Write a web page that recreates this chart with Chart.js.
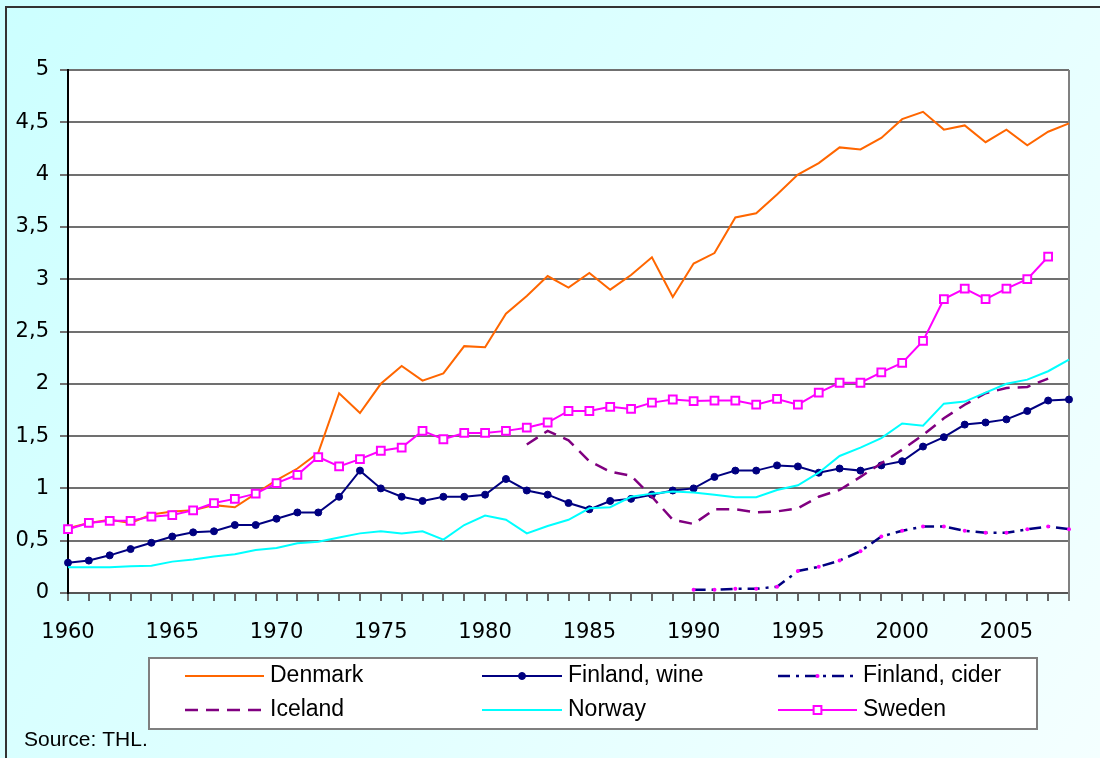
<!DOCTYPE html>
<html>
<head>
<meta charset="utf-8">
<script src="https://cdn.jsdelivr.net/npm/chart.js@4.4.1/dist/chart.umd.min.js"></script>
<style>
  html, body { margin: 0; padding: 0; background: #fff; }
  #wrap { width: 1100px; height: 758px; }
</style>
</head>
<body>
<div id="wrap"><canvas id="chart" width="1100" height="758"></canvas></div>
<script>
const years = [
  1960, 1961, 1962, 1963, 1964, 1965, 1966, 1967, 1968, 1969,
  1970, 1971, 1972, 1973, 1974, 1975, 1976, 1977, 1978, 1979,
  1980, 1981, 1982, 1983, 1984, 1985, 1986, 1987, 1988, 1989,
  1990, 1991, 1992, 1993, 1994, 1995, 1996, 1997, 1998, 1999,
  2000, 2001, 2002, 2003, 2004, 2005, 2006, 2007, 2008
];

const denmark = [
  0.62, 0.67, 0.70, 0.67, 0.75, 0.78, 0.79, 0.84, 0.82, 0.95,
  1.08, 1.19, 1.34, 1.91, 1.72, 2.00, 2.17, 2.03, 2.10, 2.36,
  2.35, 2.67, 2.84, 3.03, 2.92, 3.06, 2.90, 3.04, 3.21, 2.83,
  3.15, 3.25, 3.59, 3.63, 3.81, 4.00, 4.11, 4.26, 4.24, 4.35,
  4.53, 4.60, 4.43, 4.47, 4.31, 4.43, 4.28, 4.41, 4.49
];

const finlandWine = [
  0.29, 0.31, 0.36, 0.42, 0.48, 0.54, 0.58, 0.59, 0.65, 0.65,
  0.71, 0.77, 0.77, 0.92, 1.17, 1.00, 0.92, 0.88, 0.92, 0.92,
  0.94, 1.09, 0.98, 0.94, 0.86, 0.80, 0.88, 0.90, 0.94, 0.98,
  1.00, 1.11, 1.17, 1.17, 1.22, 1.21, 1.15, 1.19, 1.17, 1.22,
  1.26, 1.40, 1.49, 1.61, 1.63, 1.66, 1.74, 1.84, 1.85
];

const finlandCider = [
  null, null, null, null, null, null, null, null, null, null,
  null, null, null, null, null, null, null, null, null, null,
  null, null, null, null, null, null, null, null, null, null,
  0.03, 0.03, 0.04, 0.04, 0.06, 0.21, 0.25, 0.31, 0.40, 0.54,
  0.595, 0.635, 0.635, 0.595, 0.575, 0.575, 0.61, 0.635, 0.61
];

const iceland = [
  null, null, null, null, null, null, null, null, null, null,
  null, null, null, null, null, null, null, null, null, null,
  null, null, 1.42, 1.55, 1.46, 1.26, 1.16, 1.12, 0.92, 0.70,
  0.66, 0.80, 0.80, 0.77, 0.78, 0.81, 0.92, 0.985, 1.11, 1.24,
  1.37, 1.51, 1.67, 1.80, 1.91, 1.96, 1.97, 2.05, null
];

const norway = [
  0.245, 0.245, 0.245, 0.255, 0.26, 0.30, 0.32, 0.35, 0.37, 0.41,
  0.43, 0.475, 0.49, 0.53, 0.57, 0.59, 0.57, 0.59, 0.51, 0.65,
  0.74, 0.70, 0.57, 0.64, 0.70, 0.81, 0.82, 0.92, 0.95, 0.97,
  0.96, 0.94, 0.915, 0.915, 0.985, 1.03, 1.15, 1.31, 1.39, 1.48,
  1.62, 1.60, 1.81, 1.83, 1.915, 2.00, 2.04, 2.12, 2.23
];

const sweden = [
  0.61, 0.67, 0.69, 0.69, 0.73, 0.745, 0.79, 0.86, 0.90, 0.95,
  1.05, 1.13, 1.30, 1.21, 1.28, 1.36, 1.39, 1.55, 1.47, 1.53,
  1.53, 1.55, 1.58, 1.63, 1.74, 1.74, 1.78, 1.76, 1.82, 1.85,
  1.835, 1.84, 1.84, 1.80, 1.855, 1.80, 1.915, 2.01, 2.01, 2.11,
  2.20, 2.41, 2.81, 2.91, 2.81, 2.91, 3.00, 3.215, null
];

const seriesNames = ['Denmark', 'Finland, wine', 'Finland, cider', 'Iceland', 'Norway', 'Sweden'];
const sourceNote = 'Source: THL.';

const TICK_FONT = { family: '"DejaVu Sans", sans-serif', size: 21 };

// background, white plot area, outer frame
const framePlugin = {
  id: 'frame',
  beforeDraw(chart) {
    const { ctx, chartArea: a, width, height } = chart;
    ctx.save();
    const g = ctx.createLinearGradient(0, 0, width, height);
    g.addColorStop(0, '#CCFFFF');
    g.addColorStop(1, '#F4FFFF');
    ctx.fillStyle = g;
    ctx.fillRect(0, 0, width, height);
    ctx.fillStyle = '#ffffff';
    ctx.fillRect(a.left, a.top, a.right - a.left, a.bottom - a.top);
    ctx.strokeStyle = '#333333';
    ctx.lineWidth = 2;
    ctx.beginPath();
    ctx.moveTo(6, height);
    ctx.lineTo(6, 7);
    ctx.lineTo(width, 7);
    ctx.stroke();
    ctx.restore();
  },
  beforeDatasetsDraw(chart) {
    const { ctx, chartArea: a } = chart;
    ctx.save();
    ctx.strokeStyle = '#808080';
    ctx.lineWidth = 2;
    ctx.beginPath();
    ctx.moveTo(a.right, a.top);
    ctx.lineTo(a.right, a.bottom + 8);
    ctx.stroke();
    ctx.restore();
  }
};

// legend box in a 3 x 2 grid, like the original
const legendPlugin = {
  id: 'boxLegend',
  afterDraw(chart) {
    const { ctx } = chart;
    const lineX = [[185, 264], [482, 562], [778, 857]];
    const rowY = [676, 710];
    ctx.save();
    ctx.fillStyle = '#ffffff';
    ctx.fillRect(149, 658, 888, 71);
    ctx.strokeStyle = '#7f7f7f';
    ctx.lineWidth = 2;
    ctx.strokeRect(149, 658, 888, 71);

    chart.data.datasets.forEach((ds, i) => {
      const col = i % 3, row = Math.floor(i / 3);
      const [x0, x1] = lineX[col];
      const y = rowY[row];
      ctx.setLineDash(ds.borderDash || []);
      ctx.strokeStyle = ds.borderColor;
      ctx.lineWidth = ds.borderWidth;
      ctx.beginPath();
      ctx.moveTo(x0, y);
      ctx.lineTo(x1, y);
      ctx.stroke();
      ctx.setLineDash([]);
      if (ds.pointRadius > 0) {
        const mx = (x0 + x1) / 2;
        ctx.fillStyle = ds.pointBackgroundColor;
        ctx.strokeStyle = ds.pointBorderColor;
        ctx.lineWidth = ds.pointBorderWidth;
        ctx.beginPath();
        if (ds.pointStyle === 'rect') {
          const s = ds.pointRadius * Math.SQRT1_2;
          ctx.rect(mx - s, y - s, 2 * s, 2 * s);
        } else {
          ctx.arc(mx, y, ds.pointRadius, 0, Math.PI * 2);
        }
        ctx.fill();
        if (ds.pointBorderWidth > 0) ctx.stroke();
      }
      ctx.fillStyle = '#000000';
      ctx.font = '23px "Liberation Sans", Arial, sans-serif';
      ctx.textBaseline = 'alphabetic';
      ctx.textAlign = 'left';
      ctx.fillText(ds.label, x1 + 6, y + 6);
    });

    ctx.font = '21px "Liberation Sans", Arial, sans-serif';
    ctx.fillText(sourceNote, 24, 746);
    ctx.restore();
  }
};

const ctx = document.getElementById('chart').getContext('2d');
new Chart(ctx, {
  type: 'line',
  data: {
    labels: years.map(String),
    datasets: [
      {
        label: seriesNames[0], data: denmark,
        borderColor: '#FF6600', borderWidth: 2, pointRadius: 0, order: 5
      },
      {
        label: seriesNames[1], data: finlandWine,
        borderColor: '#000080', borderWidth: 2,
        pointStyle: 'circle', pointRadius: 3.5,
        pointBackgroundColor: '#000080', pointBorderColor: '#000080', pointBorderWidth: 1, order: 4
      },
      {
        label: seriesNames[2], data: finlandCider,
        borderColor: '#000080', borderWidth: 2.5, borderDash: [12, 6, 3, 6],
        pointStyle: 'circle', pointRadius: 2,
        pointBackgroundColor: '#FF00FF', pointBorderColor: '#FF00FF', pointBorderWidth: 0, order: 3
      },
      {
        label: seriesNames[3], data: iceland,
        borderColor: '#800080', borderWidth: 2.5, borderDash: [13, 8], pointRadius: 0, order: 2
      },
      {
        label: seriesNames[4], data: norway,
        borderColor: '#00FFFF', borderWidth: 2, pointRadius: 0, order: 1
      },
      {
        label: seriesNames[5], data: sweden,
        borderColor: '#FF00FF', borderWidth: 2,
        pointStyle: 'rect', pointRadius: 5.5,
        pointBackgroundColor: '#FFFFFF', pointBorderColor: '#FF00FF', pointBorderWidth: 2, order: 0
      }
    ]
  },
  options: {
    responsive: false,
    animation: false,
    devicePixelRatio: 1,
    spanGaps: false,
    elements: { line: { tension: 0 } },
    layout: { padding: { left: 0, top: 70, right: 31, bottom: 0 } },
    plugins: {
      legend: { display: false },
      tooltip: { enabled: false }
    },
    scales: {
      x: {
        type: 'category',
        offset: false,
        afterFit: s => { s.height = 165; },
        grid: {
          display: true, drawOnChartArea: false, drawTicks: true,
          tickLength: 8, color: '#666666', lineWidth: 2
        },
        border: { display: true, color: '#555555', width: 2 },
        ticks: {
          autoSkip: false, maxRotation: 0, minRotation: 0,
          padding: 19, color: '#000000', font: TICK_FONT,
          callback: (v, i) => (years[i] % 5 === 0 ? String(years[i]) : '')
        }
      },
      y: {
        min: 0, max: 5,
        afterFit: s => { s.width = 68; },
        grid: {
          color: '#707070', lineWidth: 2, drawTicks: true, tickLength: 8
        },
        border: { display: true, color: '#000000', width: 2 },
        ticks: {
          stepSize: 0.5, padding: 11, color: '#000000', font: TICK_FONT,
          callback: v => String(v).replace('.', ',')
        }
      }
    }
  },
  plugins: [framePlugin, legendPlugin]
});
</script>
</body>
</html>
